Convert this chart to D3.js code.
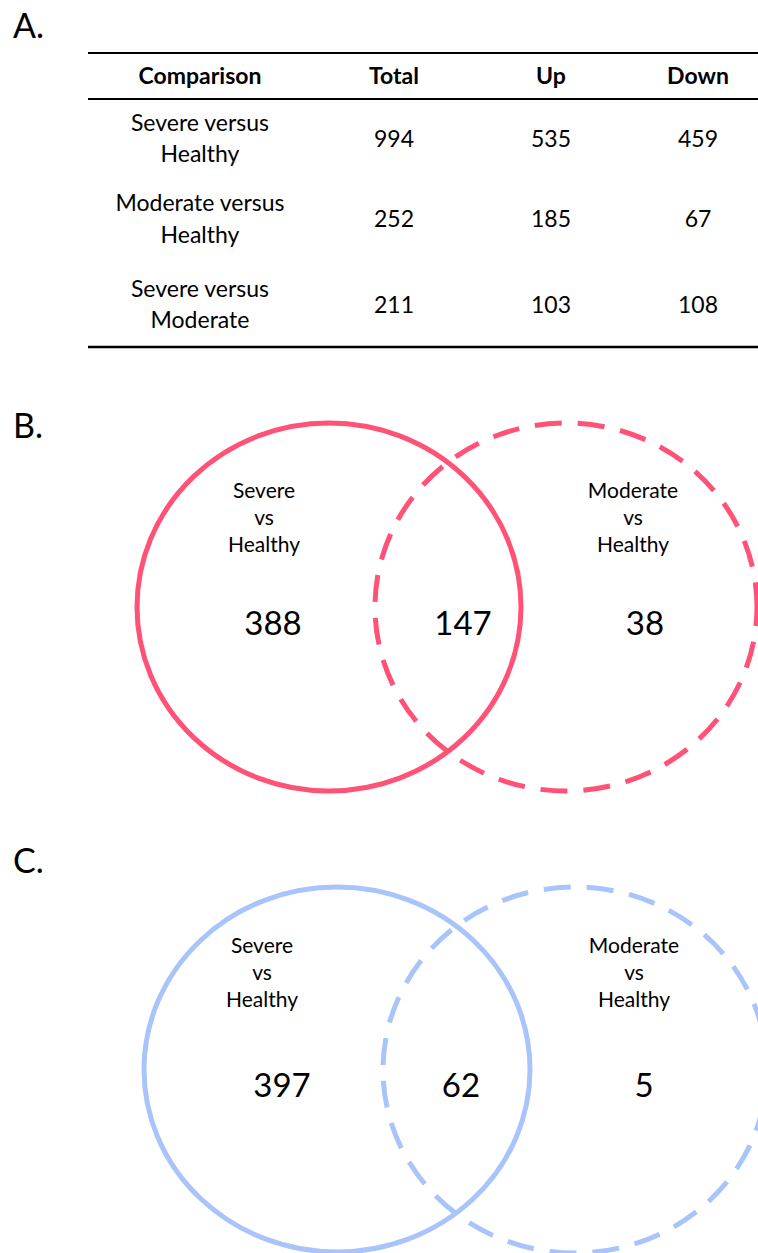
<!DOCTYPE html>
<html><head><meta charset="utf-8">
<script src="https://cdn.jsdelivr.net/npm/d3@7"></script>
<style>body{margin:0;background:#fff}svg{display:block}text{font-family:Lato,"Open Sans",sans-serif;fill:#000}</style>
</head><body><svg id="c" width="758" height="1253"></svg>
<script>
// ---- data ----
const headers = ["Comparison", "Total", "Up", "Down"];
const comparisons = [["Severe versus", "Healthy"], ["Moderate versus", "Healthy"], ["Severe versus", "Moderate"]];
const totals = [994, 252, 211];
const ups = [535, 185, 103];
const downs = [459, 67, 108];
const vennSetLabels = [["Severe", "vs", "Healthy"], ["Moderate", "vs", "Healthy"]];
const upCounts = [388, 147, 38];     // severe only, shared, moderate only
const downCounts = [397, 62, 5];
const panelLabels = ["A.", "B.", "C."];

const svg = d3.select("#c");

// panel letters
const letterY = d3.scaleOrdinal(panelLabels, [38, 438, 873]);
svg.selectAll("text.panel").data(panelLabels).join("text")
  .attr("class", "panel").attr("x", 13).attr("y", d => letterY(d))
  .style("font-size", "34px").text(d => d);

// ---- table ----
const colX = d3.scaleOrdinal(headers, [200, 394, 551, 698]);
const rowIdx = d3.range(comparisons.length);
const rowNumY = d3.scaleOrdinal(rowIdx, [147, 227, 313]);
const rowLineY = d3.scaleOrdinal(rowIdx, [[131, 162], [211, 243], [297, 328]]);

const table = svg.append("g");
[[53, 2], [99, 2], [347, 2.5]].forEach(([y, w]) =>
  table.append("line").attr("x1", 88).attr("x2", 758).attr("y1", y).attr("y2", y)
    .attr("stroke", "#000").attr("stroke-width", w));

table.selectAll("text.hdr").data(headers).join("text")
  .attr("class", "hdr").attr("text-anchor", "middle")
  .attr("x", d => colX(d)).attr("y", 84)
  .style("font-size", "23px").style("font-weight", "bold").text(d => d);

rowIdx.forEach(i => {
  comparisons[i].forEach((line, j) => {
    table.append("text").attr("text-anchor", "middle")
      .attr("x", colX("Comparison")).attr("y", rowLineY(i)[j])
      .style("font-size", "23px").text(line);
  });
  [["Total", totals], ["Up", ups], ["Down", downs]].forEach(([h, arr]) => {
    table.append("text").attr("text-anchor", "middle")
      .attr("x", colX(h)).attr("y", rowNumY(i))
      .style("font-size", "23px").text(arr[i]);
  });
});

// ---- venn panels ----
function venn(cfg, counts, color) {
  const g = svg.append("g");
  g.append("ellipse").attr("cx", cfg.a[0]).attr("cy", cfg.a[1]).attr("rx", cfg.a[2]).attr("ry", cfg.a[3])
    .attr("fill", "none").attr("stroke", color).attr("stroke-width", 5);
  g.append("ellipse").attr("cx", cfg.b[0]).attr("cy", cfg.b[1]).attr("rx", cfg.b[2]).attr("ry", cfg.b[3])
    .attr("fill", "none").attr("stroke", color).attr("stroke-width", 5)
    .attr("stroke-dasharray", "27,16").attr("stroke-dashoffset", 8);
  vennSetLabels.forEach((lines, k) => {
    lines.forEach((t, j) => {
      g.append("text").attr("text-anchor", "middle")
        .attr("x", cfg.labelX[k]).attr("y", cfg.labelY[j])
        .style("font-size", "21px").text(t);
    });
  });
  g.selectAll("text.num").data(counts).join("text").attr("class", "num")
    .attr("text-anchor", "middle")
    .attr("x", (d, i) => cfg.numX[i]).attr("y", cfg.numY)
    .style("font-size", "33px").text(d => d);
}

venn({a: [329, 607, 192, 184], b: [566, 607, 191, 184],
      labelX: [264, 633], labelY: [498, 525, 552], numX: [273, 463, 645], numY: 635},
     upCounts, "#FF5276");
venn({a: [337, 1069.5, 193, 182.5], b: [575, 1070, 192, 183],
      labelX: [262, 634], labelY: [953, 980, 1007], numX: [282, 461, 644], numY: 1097},
     downCounts, "#A9C4FB");
</script></body></html>
